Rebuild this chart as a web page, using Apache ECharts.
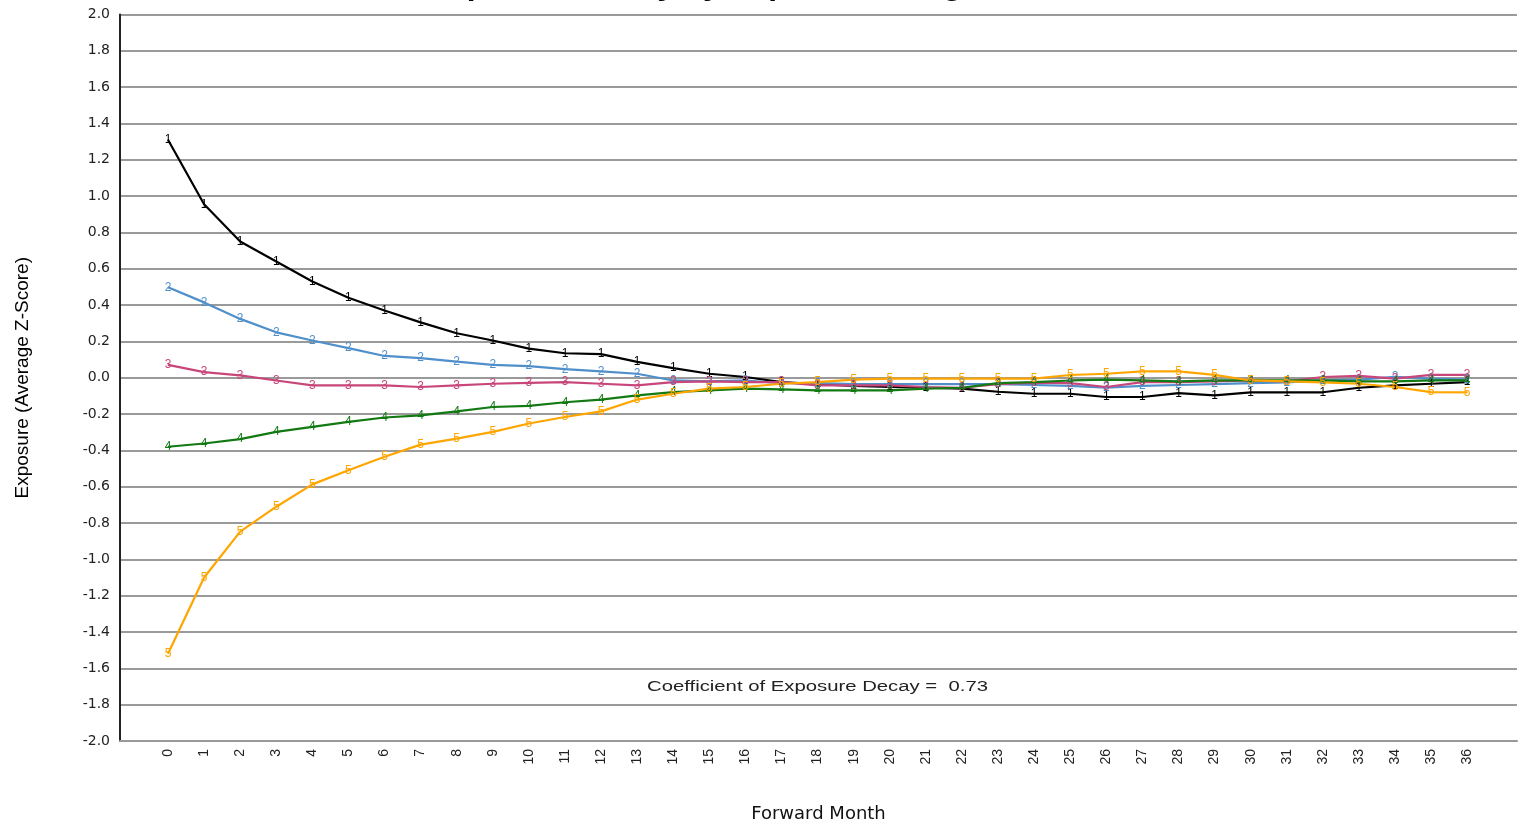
<!DOCTYPE html>
<html>
<head>
<meta charset="utf-8">
<script src="https://cdn.jsdelivr.net/npm/echarts@6/dist/echarts.min.js"></script>
<style>html,body{margin:0;padding:0;background:#fff;}#c{width:1521px;height:828px;}</style>
</head>
<body>
<div id="c"></div>
<script>
const months = [0,1,2,3,4,5,6,7,8,9,10,11,12,13,14,15,16,17,18,19,20,21,22,23,24,25,26,27,28,29,30,31,32,33,34,35,36];
const range1 = [1.31,0.955,0.75,0.64,0.53,0.44,0.37,0.305,0.245,0.205,0.16,0.135,0.13,0.087,0.053,0.022,0.004,-0.024,-0.035,-0.045,-0.05,-0.055,-0.06,-0.077,-0.088,-0.088,-0.106,-0.106,-0.085,-0.097,-0.08,-0.08,-0.08,-0.055,-0.042,-0.033,-0.024];
const range2 = [0.498,0.415,0.324,0.25,0.205,0.163,0.12,0.108,0.089,0.071,0.064,0.047,0.035,0.022,-0.015,-0.02,-0.015,-0.03,-0.03,-0.035,-0.035,-0.035,-0.035,-0.035,-0.04,-0.045,-0.055,-0.045,-0.04,-0.035,-0.03,-0.025,-0.015,-0.01,0.005,-0.005,-0.01];
const range3 = [0.071,0.031,0.013,-0.015,-0.042,-0.042,-0.042,-0.051,-0.042,-0.033,-0.028,-0.024,-0.033,-0.042,-0.024,-0.02,-0.024,-0.024,-0.042,-0.042,-0.042,-0.051,-0.055,-0.035,-0.027,-0.03,-0.051,-0.024,-0.024,-0.02,-0.015,-0.02,0.004,0.01,-0.005,0.016,0.016];
const range4 = [-0.38,-0.362,-0.338,-0.298,-0.27,-0.243,-0.219,-0.207,-0.185,-0.161,-0.155,-0.135,-0.12,-0.097,-0.079,-0.07,-0.06,-0.064,-0.07,-0.07,-0.07,-0.06,-0.055,-0.03,-0.024,-0.015,-0.01,-0.015,-0.02,-0.015,-0.015,-0.015,-0.015,-0.02,-0.02,-0.015,-0.015];
const range5 = [-1.52,-1.10,-0.847,-0.71,-0.587,-0.509,-0.435,-0.368,-0.335,-0.298,-0.252,-0.216,-0.185,-0.12,-0.088,-0.06,-0.051,-0.033,-0.024,-0.01,-0.005,-0.005,-0.005,-0.005,-0.005,0.015,0.022,0.035,0.035,0.016,-0.015,-0.02,-0.025,-0.033,-0.051,-0.079,-0.08];
const seriesNames = ['1','2','3','4','5'];
const seriesColors = ['#000000','#4f8fca','#c8467a','#137a13','#ffa500'];
const titleText = 'Exposure Decay by Exposure Range';
const noteText = 'Coefficient of Exposure Decay =  0.73';
const xName = 'Forward Month';
const yName = 'Exposure (Average Z-Score)';

const allData = [range1, range2, range3, range4, range5];
const chart = echarts.init(document.getElementById('c'), null, {renderer: 'canvas'});
const FONT = '"Liberation Sans", Arial, sans-serif';

const series = allData.map((arr, i) => ({
  name: seriesNames[i],
  type: 'line',
  data: arr.map((v, k) => [months[k], v]),
  symbol: 'circle',
  symbolSize: 1,
  showSymbol: true,
  lineStyle: {color: seriesColors[i], width: 2.2},
  itemStyle: {color: seriesColors[i]},
  label: {
    show: true,
    position: 'inside',
    formatter: seriesNames[i],
    color: seriesColors[i],
    fontSize: 12,
    fontFamily: FONT
  },
  emphasis: {disabled: true},
  animation: false
}));

chart.setOption({
  animation: false,
  grid: {left: 120, right: 4, top: 14.5, bottom: 81.5, containLabel: false},
  xAxis: {
    type: 'value',
    min: -1.33,
    max: 37.38,
    name: xName,
    nameLocation: 'middle',
    nameGap: 64,
    nameTextStyle: {fontFamily: '"DejaVu Sans", sans-serif', fontSize: 18, color: '#111'},
    axisLine: {show: true, onZero: false, lineStyle: {color: '#999', width: 2}},
    axisTick: {show: false},
    splitLine: {show: false},
    axisLabel: {
      customValues: months,
      rotate: 90,
      margin: 8,
      fontFamily: FONT,
      fontSize: 14,
      color: '#222',
      formatter: v => String(v)
    }
  },
  yAxis: {
    type: 'value',
    min: -2.0,
    max: 2.0,
    interval: 0.2,
    name: yName,
    nameLocation: 'middle',
    nameGap: 88,
    nameTextStyle: {fontFamily: FONT, fontSize: 19, color: '#000'},
    axisLine: {show: true, onZero: false, lineStyle: {color: '#222', width: 2}},
    axisTick: {show: false},
    splitLine: {show: true, lineStyle: {color: '#9a9a9a', width: 2}},
    axisLabel: {
      margin: 10,
      fontFamily: '"DejaVu Sans", sans-serif',
      fontSize: 14,
      color: '#222',
      formatter: v => v.toFixed(1)
    }
  },
  graphic: [
    {type: 'text', x: 428, y: -24.5, scaleX: 1.22, scaleY: 1, silent: true, z: 100,
     style: {text: titleText, font: 'bold 26px ' + FONT, fill: '#000', textVerticalAlign: 'top'}},
    {type: 'text', x: 647, y: 680, scaleX: 1.45, scaleY: 1, silent: true, z: 100,
     style: {text: noteText, font: '14px ' + FONT, fill: '#222', textVerticalAlign: 'top'}}
  ],
  series: series
});
</script>
</body>
</html>
